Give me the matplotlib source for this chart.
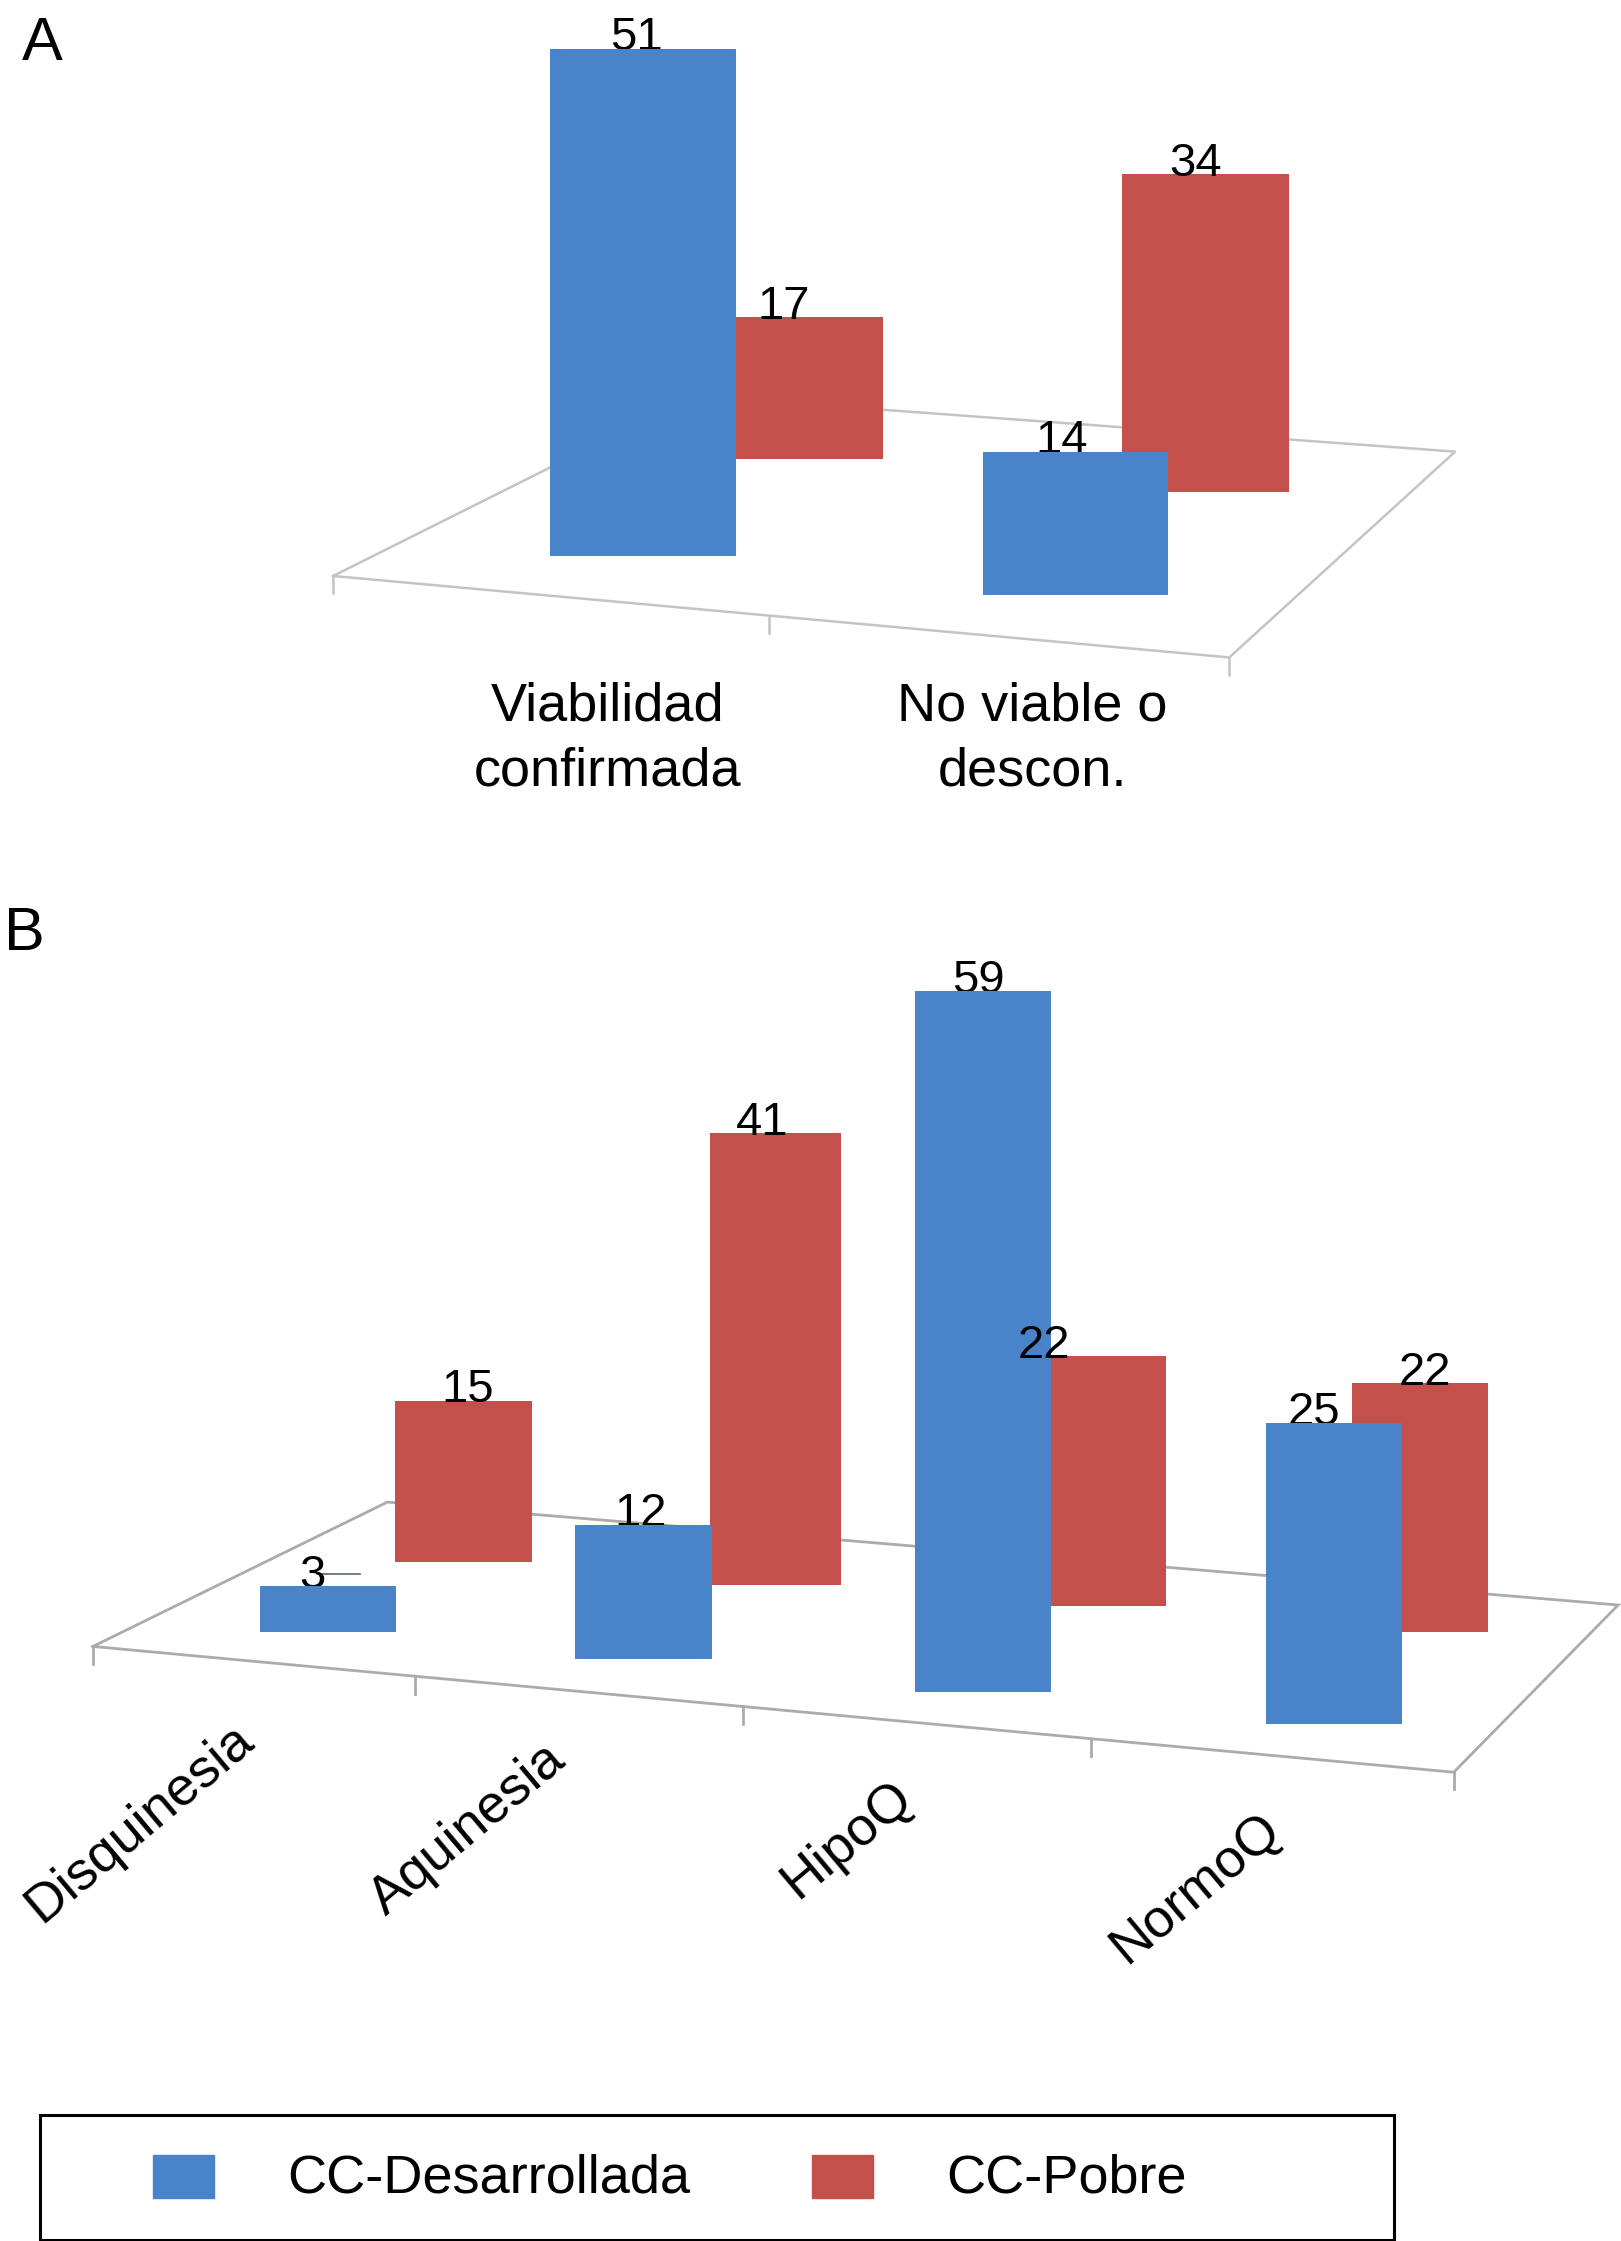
import matplotlib.pyplot as plt
from matplotlib.patches import Rectangle

plt.rcParams['font.family'] = ['Liberation Sans', 'DejaVu Sans']

# --- data ---
cats_a = ['Viabilidad\nconfirmada', 'No viable o\ndescon.']
desarrollada_a = [51, 14]
pobre_a = [17, 34]

cats_b = ['Disquinesia', 'Aquinesia', 'HipoQ', 'NormoQ']
desarrollada_b = [3, 12, 59, 25]
pobre_b = [15, 41, 22, 22]

series_names = ['CC-Desarrollada', 'CC-Pobre']
BLUE = '#4983C9'
RED = '#C3504B'
GRID_A = '#C4C4C4'
GRID_B = '#ABABAB'

# --- layout (page units, y grows downward) ---
# pseudo-3D: every bar sits on its own floor line and has its own perspective scale
a_blue_x = [385, 688]
a_blue_w = [130, 129]
a_blue_base = [389, 416]
a_blue_unit = [6.96, 7.14]
a_red_x = [512, 785]
a_red_w = [106, 117]
a_red_base = [321, 344]
a_red_unit = [5.82, 6.53]
a_lab_dx_blue = [-5, -10]
a_lab_dx_red = [-17, -7]

b_blue_x = [182, 402, 640, 886]
b_blue_w = [95, 96, 95, 95]
b_blue_base = [1142, 1161, 1184, 1206]
b_blue_unit = [10.7, 7.83, 8.31, 8.4]
b_red_x = [276, 497, 735, 946]
b_red_w = [96, 91, 81, 95]
b_red_base = [1093, 1109, 1124, 1142]
b_red_unit = [7.53, 7.71, 7.95, 7.91]
b_lab_dx_blue = [-11, -2, -3, -14]
b_lab_dx_red = [3, -9, -45, 3]

floor_a = [(233, 403), (860, 460), (1018, 316), (485, 277)]
ticks_a = [(233, 403), (538, 431), (860, 460)]
floor_b = [(65, 1152), (1017, 1240), (1132, 1123), (271, 1051)]
ticks_b = [(65, 1152), (290, 1173), (520, 1194), (763, 1217), (1017, 1240)]

fig = plt.figure(figsize=(16.21, 22.41), dpi=100)
ax = fig.add_axes([0, 0, 1, 1])
ax.set_xlim(0, 1134)
ax.set_ylim(1568, 0)
ax.axis('off')


def draw_floor(corners, ticks, color, lw):
    xs = [c[0] for c in corners] + [corners[0][0]]
    ys = [c[1] for c in corners] + [corners[0][1]]
    ax.plot(xs, ys, color=color, lw=lw, zorder=1, solid_joinstyle='miter')
    for tx, ty in ticks:
        ax.plot([tx, tx], [ty, ty + 12], color=color, lw=lw, zorder=1)


def draw_series(xs, ws, bases, units, vals, dxs, color, z, label_z):
    heights = [-v * u for v, u in zip(vals, units)]
    bars = ax.bar(xs, heights, width=ws, bottom=bases, align='edge',
                  color=color, edgecolor='none', zorder=z)
    for b, v, dx in zip(bars, vals, dxs):
        top = b.get_y() + b.get_height()
        ax.text(b.get_x() + b.get_width() / 2 + dx, top + 1, str(v),
                ha='center', va='baseline', fontsize=34, zorder=label_z)


# panel A
ax.text(15, 42, 'A', fontsize=44, va='baseline')
draw_floor(floor_a, ticks_a, GRID_A, 1.8)
draw_series(a_red_x, a_red_w, a_red_base, a_red_unit, pobre_a, a_lab_dx_red, RED, 4, 7)
draw_series(a_blue_x, a_blue_w, a_blue_base, a_blue_unit, desarrollada_a, a_lab_dx_blue, BLUE, 6, 5)
for x, lab in zip([425, 722], cats_a):
    ax.text(x, 477, lab, ha='center', va='top', fontsize=39, linespacing=1.38)

# panel B
ax.text(3, 665, 'B', fontsize=44, va='baseline')
draw_floor(floor_b, ticks_b, GRID_B, 2.0)
ax.plot([222, 252], [1101, 1101], color='#55657A', lw=1.2, zorder=2)
draw_series(b_red_x, b_red_w, b_red_base, b_red_unit, pobre_b, b_lab_dx_red, RED, 4, 7)
draw_series(b_blue_x, b_blue_w, b_blue_base, b_blue_unit, desarrollada_b, b_lab_dx_blue, BLUE, 6, 5)
for (x, y), lab in zip([(179, 1220), (397, 1234), (640, 1260), (898, 1283)], cats_b):
    ax.text(x, y, lab, ha='right', va='baseline', rotation=40,
            rotation_mode='anchor', fontsize=39)

# legend
ax.add_patch(Rectangle((28, 1480), 947, 87, fill=False, edgecolor='black', lw=2.2, zorder=2))
ax.add_patch(Rectangle((107, 1508), 43, 30, color=BLUE, zorder=3))
ax.add_patch(Rectangle((568, 1508), 43, 30, color=RED, zorder=3))
ax.text(201, 1524, series_names[0], va='center', fontsize=39)
ax.text(662, 1524, series_names[1], va='center', fontsize=39)

fig.savefig('out.png', dpi=100)
